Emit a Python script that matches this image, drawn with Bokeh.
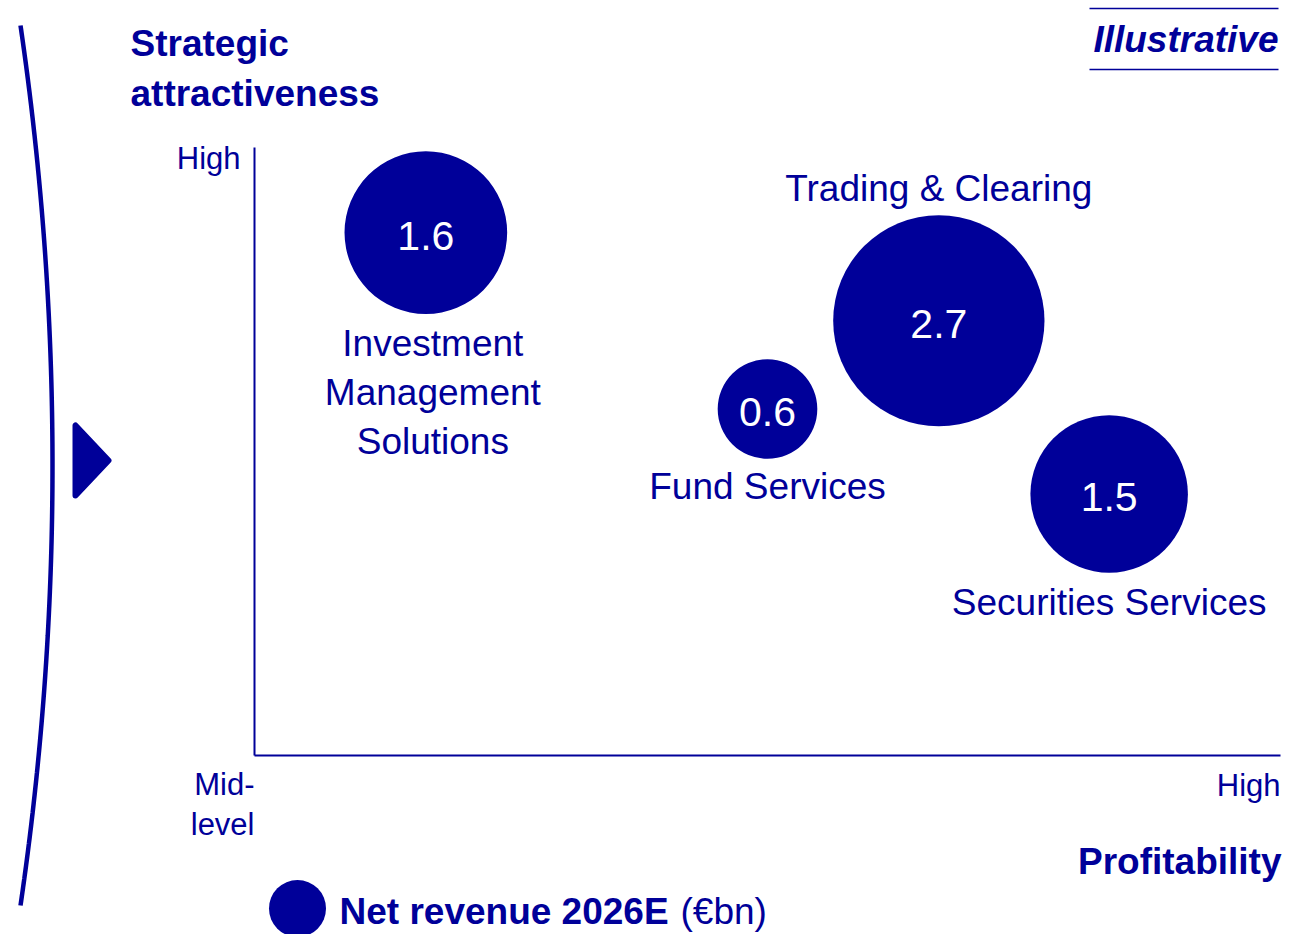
import numpy as np
from bokeh.plotting import figure
from bokeh.models import Range1d
from bokeh.core.properties import value
from bokeh.embed import file_html
from bokeh.resources import INLINE

# ---------------- data ----------------
segments = ["Investment\nManagement\nSolutions", "Trading & Clearing", "Fund Services", "Securities Services"]
profitability = [1.67, 6.67, 5.0, 8.33]          # x, 0 = mid-level .. 10 = high
attractiveness = [8.6, 7.15, 5.7, 4.3]            # y, 0 = mid-level .. 10 = high
net_revenue = [1.6, 2.7, 0.6, 1.5]                # EUR bn, 2026E
value_labels = ["1.6", "2.7", "0.6", "1.5"]
y_ticks = ["High", "Mid-\nlevel"]
x_ticks = ["High"]

# ---------------- styling / layout ----------------
NAVY = "#000099"
FONT = "Liberation Sans"
W, H = 1306, 934
OFF = 0  # canvas offset in the picture
# label offsets relative to bubble centre (screen px, + = right / down)
lab_dx = [7, 0, 0, 0]
lab_dy = [160, -132, 78, 108]
K = 64.3  # bubble radius px per sqrt(bn)

# pixel anchors of the plot's origin and top-right (in the page picture)
PX0, PX10 = 254.0, 1280.0
PY0, PY10 = 755.0, 147.0
sx = (PX10 - PX0) / 10.0
sy = (PY0 - PY10) / 10.0


def dx(X):
    return (X - PX0) / sx


def dy(Y):
    return (PY0 - Y) / sy


p = figure(width=W, height=H, output_backend="svg", toolbar_location=None,
           x_range=Range1d(dx(OFF), dx(OFF + W)), y_range=Range1d(dy(OFF + H), dy(OFF)),
           min_border=0, outline_line_color=None)
p.axis.visible = False
p.grid.visible = False
p.background_fill_color = "white"
p.border_fill_color = "white"

# axes lines
p.line([0, 0], [10, 0], line_color=NAVY, line_width=2)
p.line([0, 10], [0, 0], line_color=NAVY, line_width=2)

# bubbles
sizes = [2 * K * np.sqrt(v) for v in net_revenue]
p.scatter(profitability, attractiveness, size=sizes, marker="circle",
          fill_color=NAVY, line_color=None)
p.text(profitability, attractiveness, text=value_labels, text_color="white",
       text_font=value(FONT), text_font_size="41px", text_align="center",
       text_baseline="middle", y_offset=3)

# category labels
lx = [profitability[i] + lab_dx[i] / sx for i in range(4)]
ly = [attractiveness[i] - lab_dy[i] / sy for i in range(4)]
p.text(lx, ly, text=segments, text_color=NAVY, text_font=value(FONT),
       text_font_size="37px", text_align="center", text_baseline="middle",
       text_line_height=1.2)

# axis end labels
p.text([dx(240)], [dy(158)], text=[y_ticks[0]], text_color=NAVY, text_font=value(FONT),
       text_font_size="31px", text_align="right", text_baseline="middle")
p.text([dx(254)], [dy(804)], text=[y_ticks[1]], text_color=NAVY, text_font=value(FONT),
       text_font_size="31px", text_align="right", text_baseline="middle",
       text_line_height=1.12)
p.text([10], [dy(785)], text=[x_ticks[0]], text_color=NAVY, text_font=value(FONT),
       text_font_size="31px", text_align="right", text_baseline="middle")

# axis titles
p.text([dx(130)], [dy(68)], text=["Strategic\nattractiveness"], text_color=NAVY,
       text_font=value(FONT), text_font_size="37px", text_font_style="bold",
       text_align="left", text_baseline="middle", text_line_height=1.2)
p.text([dx(1281)], [dy(861)], text=["Profitability"], text_color=NAVY,
       text_font=value(FONT), text_font_size="37px", text_font_style="bold",
       text_align="right", text_baseline="middle")

# Illustrative tag
p.text([dx(1278)], [dy(39)], text=["Illustrative"], text_color=NAVY,
       text_font=value(FONT), text_font_size="37px", text_font_style="bold italic",
       text_align="right", text_baseline="middle")
p.line([dx(1089), dx(1278)], [dy(8), dy(8)], line_color=NAVY, line_width=1.5)
p.line([dx(1089), dx(1278)], [dy(69), dy(69)], line_color=NAVY, line_width=1.5)

# legend
p.scatter([dx(297)], [dy(908)], size=57, marker="circle", fill_color=NAVY, line_color=None)
p.text([dx(339)], [dy(911)], text=["Net revenue 2026E"], text_color=NAVY,
       text_font=value(FONT), text_font_size="37px", text_font_style="bold",
       text_align="left", text_baseline="middle")
p.text([dx(680)], [dy(911)], text=["(€bn)"], text_color=NAVY,
       text_font=value(FONT), text_font_size="37px",
       text_align="left", text_baseline="middle")

# left bracket (circular arc)
Ytop, Ybot, Xend, Xmid = 25.0, 905.0, 20.0, 52.0
half = (Ybot - Ytop) / 2
sag = Xmid - Xend
R = (half ** 2 + sag ** 2) / (2 * sag)
Yc = (Ytop + Ybot) / 2
Ys = np.linspace(Ytop, Ybot, 200)
Xs = (Xmid - R) + np.sqrt(R ** 2 - (Ys - Yc) ** 2)
p.line([dx(v) for v in Xs], [dy(v) for v in Ys], line_color=NAVY, line_width=4.5)

# arrow
ax = [dx(75), dx(75), dx(108)]
ay = [dy(425), dy(495), dy(460)]
p.patch(ax, ay, fill_color=NAVY, line_color=NAVY, line_width=6, line_join="round")

open("out.html", "w").write(file_html(p, INLINE))
